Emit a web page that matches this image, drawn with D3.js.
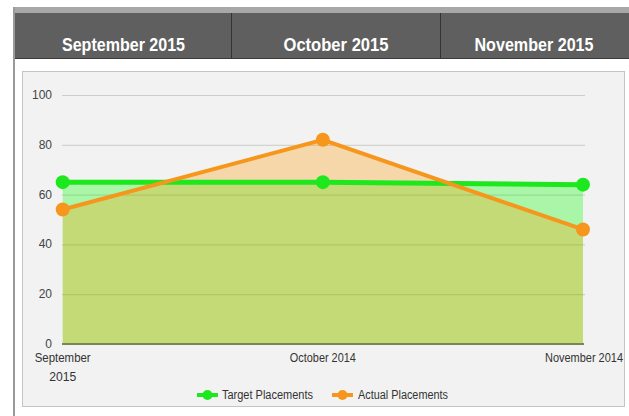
<!DOCTYPE html>
<html><head><meta charset="utf-8">
<script src="https://cdn.jsdelivr.net/npm/d3@7"></script>
<style>body{margin:0;background:#fff;}svg{display:block;font-family:"Liberation Sans",Arial,sans-serif;}</style>
</head><body>
<svg id="c" width="629" height="416"></svg>
<script>
const headers = ["September 2015", "October 2015", "November 2015"];
const categories = ["September 2015", "October 2014", "November 2014"];
const targetPlacements = [65, 65, 64];
const actualPlacements = [54, 82, 46];
const yTicks = [0, 20, 40, 60, 80, 100];
const seriesNames = ["Target Placements", "Actual Placements"];

const svg = d3.select("#c");

// outer frame
svg.append("rect").attr("x",13).attr("y",7).attr("width",616).attr("height",409).attr("fill","#fff");
svg.append("rect").attr("x",13).attr("y",7).attr("width",616).attr("height",6).attr("fill","#a8a8a8");
svg.append("rect").attr("x",13).attr("y",7).attr("width",2).attr("height",409).attr("fill","#9a9a9a");
svg.append("rect").attr("x",15).attr("y",13).attr("width",614).attr("height",45).attr("fill","#5f5f5f");
svg.append("line").attr("x1",15).attr("x2",629).attr("y1",58.5).attr("y2",58.5).attr("stroke","#3a3a3a");

// header cells
const hx = d3.scaleBand().domain(headers).range([15, 649]);
const cellCenters = [123.5, 336, 534];
[231, 440].forEach(x => svg.append("line").attr("x1",x+0.5).attr("x2",x+0.5).attr("y1",13).attr("y2",58).attr("stroke","#333").attr("stroke-width",1));
svg.selectAll("text.h").data(headers).join("text").attr("class","h")
  .attr("x",(d,i)=>cellCenters[i]).attr("y",51).attr("text-anchor","middle")
  .attr("fill","#fff").attr("font-weight","bold").attr("font-size",18)
  .attr("textLength",(d,i)=>[123,105,119][i]).attr("lengthAdjust","spacingAndGlyphs")
  .text(d=>d);

// panel
svg.append("rect").attr("x",22.5).attr("y",71.5).attr("width",602).attr("height",335)
  .attr("fill","#f2f2f2").attr("stroke","#c4c4c4");

const x = d3.scalePoint().domain(categories).range([62.7, 583]);
const y = d3.scaleLinear().domain([0,100]).range([344, 95]);

// grid
const g = svg.append("g");
g.selectAll("line.grid").data(yTicks.filter(t=>t>0)).join("line").attr("class","grid")
  .attr("x1",62).attr("x2",585).attr("y1",d=>y(d)+0.5).attr("y2",d=>y(d)+0.5)
  .attr("stroke","#d6d6d6").attr("stroke-width",1);

const area = d3.area().x((d,i)=>x(categories[i])).y0(y(0)).y1(d=>y(d));
const line = d3.line().x((d,i)=>x(categories[i])).y(d=>y(d));

g.append("path").datum(targetPlacements).attr("d",area).attr("fill","rgb(0,255,0)").attr("fill-opacity",0.3);
g.append("path").datum(actualPlacements).attr("d",area).attr("fill","rgb(255,153,0)").attr("fill-opacity",0.3);

// redraw grid faintly over area
g.selectAll("line.grid2").data(yTicks.filter(t=>t>0)).join("line").attr("class","grid2")
  .attr("x1",62).attr("x2",585).attr("y1",d=>y(d)+0.5).attr("y2",d=>y(d)+0.5)
  .attr("stroke","#8a8a50").attr("stroke-opacity",0.12).attr("stroke-width",1);

// x axis baseline
g.append("line").attr("x1",62).attr("x2",584).attr("y1",y(0)).attr("y2",y(0))
  .attr("stroke","#7d8455").attr("stroke-width",2);

const green = "#1de81d", orange = "#f7961c";
g.append("path").datum(targetPlacements).attr("d",line).attr("fill","none").attr("stroke",green).attr("stroke-width",5);
g.append("path").datum(actualPlacements).attr("d",line).attr("fill","none").attr("stroke",orange).attr("stroke-width",4);
g.selectAll("circle.t").data(targetPlacements).join("circle").attr("class","t")
  .attr("cx",(d,i)=>x(categories[i])).attr("cy",d=>y(d)).attr("r",7).attr("fill",green);
g.selectAll("circle.a").data(actualPlacements).join("circle").attr("class","a")
  .attr("cx",(d,i)=>x(categories[i])).attr("cy",d=>y(d)).attr("r",7).attr("fill",orange);

// y axis labels
g.selectAll("text.y").data(yTicks).join("text").attr("class","y")
  .attr("x",52).attr("y",d=>y(d)+4).attr("text-anchor","end")
  .attr("font-size",12).attr("fill","#444").text(d=>d);

// x axis labels
const xl = g.append("g").attr("font-size",12).attr("fill","#333");
xl.append("text").attr("x",x(categories[0])).attr("y",362).attr("text-anchor","middle").attr("fill","#333")
  .attr("textLength",56).attr("lengthAdjust","spacingAndGlyphs").text(categories[0].split(" ")[0]);
xl.append("text").attr("x",x(categories[0])).attr("y",381).attr("text-anchor","middle").attr("fill","#333")
  .attr("textLength",27).attr("lengthAdjust","spacingAndGlyphs").text(categories[0].split(" ")[1]);
xl.append("text").attr("x",x(categories[1])).attr("y",362).attr("text-anchor","middle").attr("fill","#333")
  .attr("textLength",66).attr("lengthAdjust","spacingAndGlyphs").text(categories[1]);
xl.append("text").attr("x",623).attr("y",362).attr("text-anchor","end").attr("fill","#333")
  .attr("textLength",78).attr("lengthAdjust","spacingAndGlyphs").text(categories[2]);

// legend
const leg = [{name:seriesNames[0], c:green, x0:197, tx:222, tl:91},{name:seriesNames[1], c:orange, x0:332, tx:358, tl:90}];
leg.forEach(l=>{
  svg.append("line").attr("x1",l.x0).attr("x2",l.x0+21).attr("y1",395).attr("y2",395).attr("stroke",l.c).attr("stroke-width",4);
  svg.append("circle").attr("cx",l.x0+10.5).attr("cy",395).attr("r",5).attr("fill",l.c);
  svg.append("text").attr("x",l.tx).attr("y",399).attr("font-size",12).attr("fill","#333")
    .attr("textLength",l.tl).attr("lengthAdjust","spacingAndGlyphs").text(l.name);
});
</script>
</body></html>
